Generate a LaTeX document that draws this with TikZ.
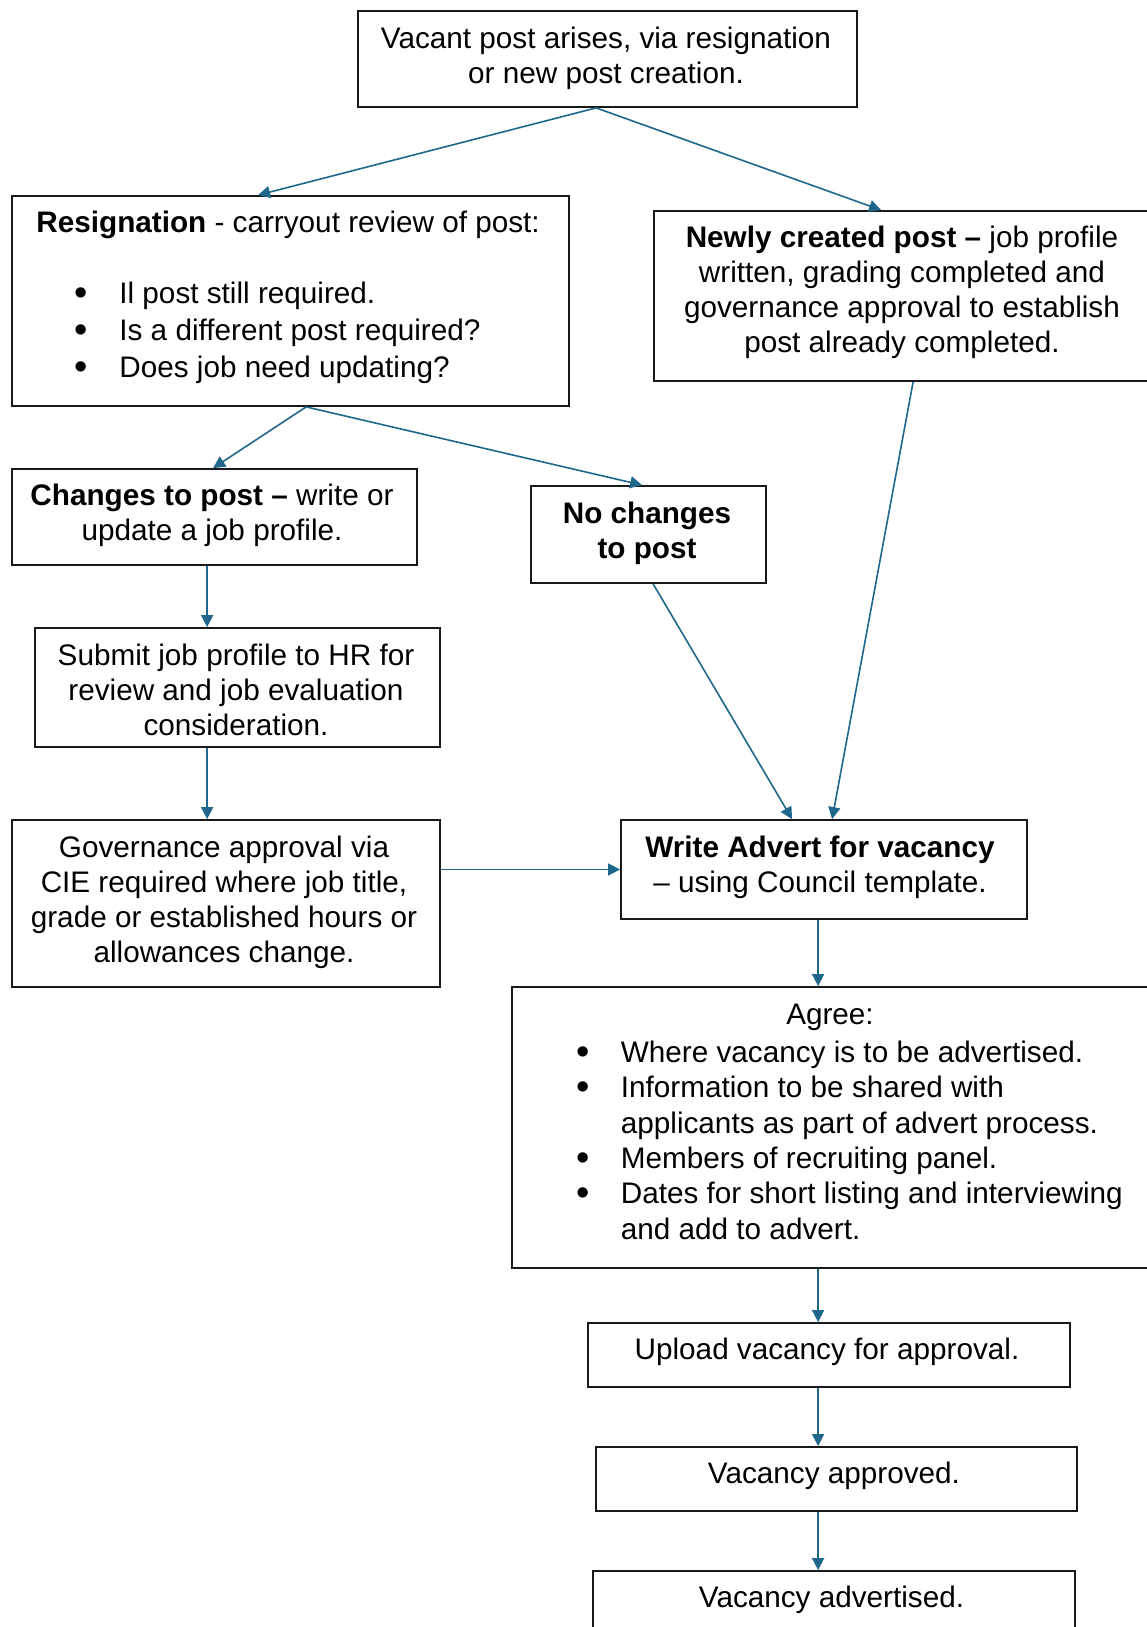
\documentclass[tikz,border=0pt]{standalone}
\usepackage{fontspec}
\setmainfont{Liberation Sans}
\usetikzlibrary{arrows.meta,calc,fit}
\definecolor{flow}{RGB}{31,104,140}
% bullet centred on the current point, item text 19pt further right
\newcommand\flowbullet{\makebox[19pt][l]{\makebox[0pt][c]{\raisebox{-0.9pt}{\fontsize{19pt}{19pt}\selectfont •}}}}
\tikzset{
  box/.style={draw=black!90, line width=0.9pt, inner sep=0pt, fit={#1}},
  txt/.style={inner sep=0pt, align=center, font=\fontsize{14.85pt}{17.5pt}\selectfont},
  arr/.style={draw=flow, line width=0.8pt, -{Triangle[length=6pt,width=6pt]}}
}
\begin{document}
\begin{tikzpicture}[x=0.5pt,y=-0.5pt]
\fill[white] (0,0) rectangle (1146,1627);
\useasboundingbox (0,0) rectangle (1146,1627);

% process boxes
\node[box={(358,11) (857,107)}] (top) {};
\node[box={(12,196) (569,406)}] (res) {};
\node[box={(654,211) (1152,381)}] (new) {};
\node[box={(12,469) (417,565)}] (chg) {};
\node[box={(531,486) (766,583)}] (noc) {};
\node[box={(35,628) (440,747)}] (sub) {};
\node[box={(12,820) (440,987)}] (gov) {};
\node[box={(621,820) (1027,919)}] (adv) {};
\node[box={(512,987) (1152,1268)}] (agr) {};
\node[box={(588,1323) (1070,1387)}] (upl) {};
\node[box={(596,1447) (1077,1511)}] (apr) {};
\node[box={(593,1571) (1075,1640)}] (adt) {};

% box texts
\node[txt] (toptext) at (606,58) {Vacant post arises, via resignation\\or new post creation.};
\node[txt, anchor=north west] (reshead) at (36,208) {\strut\textbf{Resignation} - carryout review of post:};
\node[txt, anchor=north west, align=left] (reslist) at (81,279)
  {\strut\flowbullet Il post still required.\\[1pt]\flowbullet Is a different post required?\\[1pt]\flowbullet Does job need updating?};
\node[txt] (newtext) at (902,292) {\textbf{Newly created post –} job profile\\written, grading completed and\\governance approval to establish\\post already completed.};
\node[txt] (chgtext) at (212,515.5) {\textbf{Changes to post –} write or\\update a job profile.};
\node[txt, font=\fontsize{14.85pt}{17.5pt}\selectfont\bfseries] (noctext) at (647,533.5) {No changes\\to post};
\node[txt] (subtext) at (236,690) {Submit job profile to HR for\\review and job evaluation\\consideration.};
\node[txt] (govtext) at (224,902) {Governance approval via\\CIE required where job title,\\grade or established hours or\\allowances change.};
\node[txt] (advtext) at (820,867) {\textbf{Write Advert for vacancy}\\– using Council template.};
\node[txt] (agrhead) at (830,1017) {Agree:};
\node[txt, anchor=north west, align=left, font=\fontsize{14.85pt}{17.65pt}\selectfont] (agrlist) at (582.5,1037.5)
  {\strut\flowbullet Where vacancy is to be advertised.\\\flowbullet Information to be shared with\\\hspace*{19pt}applicants as part of advert process.\\\flowbullet Members of recruiting panel.\\\flowbullet Dates for short listing and interviewing\\\hspace*{19pt}and add to advert.};
\node[txt] (upltext) at (827,1352) {Upload vacancy for approval.};
\node[txt] (aprtext) at (834,1476) {Vacancy approved.};
\node[txt] (adttext) at (831.5,1600) {Vacancy advertised.};

% connectors
\draw[arr] ($(top.south west)+(239,0)$) -- ($(res.north west)+(247,0)$);
\draw[arr] ($(top.south west)+(239,0)$) -- ($(new.north west)+(228,0)$);
\draw[arr] ($(res.south west)+(295,0)$) -- ($(chg.north west)+(202,0)$);
\draw[arr] ($(res.south west)+(295,0)$) -- ($(noc.north west)+(112,0)$);
\draw[arr] ($(chg.south west)+(196,0)$) -- ($(sub.north west)+(173,0)$);
\draw[arr] ($(sub.south west)+(173,0)$) -- ($(gov.north west)+(196,0)$);
\draw[arr] (gov.east |- adv.west) -- (adv.west);
\draw[arr] ($(noc.south west)+(123,0)$) -- ($(adv.north west)+(172,0)$);
\draw[arr] ($(new.south west)+(260,0)$) -- ($(adv.north west)+(212,0)$);
\draw[arr] ($(adv.south west)+(198,0)$) -- ($(agr.north west)+(307,0)$);
\draw[arr] ($(agr.south west)+(307,0)$) -- ($(upl.north west)+(231,0)$);
\draw[arr] ($(upl.south west)+(231,0)$) -- ($(apr.north west)+(223,0)$);
\draw[arr] ($(apr.south west)+(223,0)$) -- ($(adt.north west)+(226,0)$);
\end{tikzpicture}
\end{document}
